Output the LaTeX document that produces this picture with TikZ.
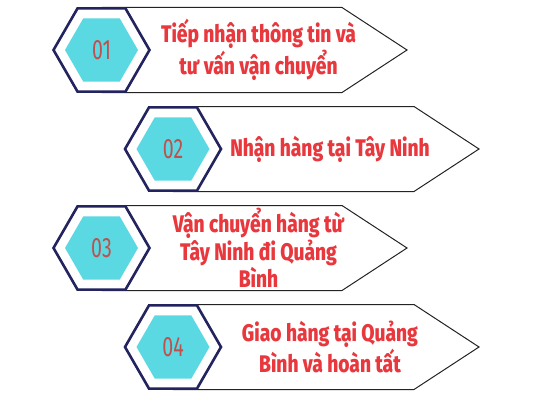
\documentclass[tikz,border=0pt]{standalone}
\usepackage{fontspec}
\setmainfont{Fira Sans}
\newfontfamily\stepfont{Fira Sans}[FakeStretch=0.8,BoldFont={Fira Sans ExtraBold}]
\newfontfamily\numfont{Fira Sans}[FakeStretch=0.7]
\usetikzlibrary{shapes.geometric}
\usetikzlibrary{positioning}
\definecolor{hexnavy}{RGB}{35,35,95}
\definecolor{hexcyan}{RGB}{90,217,226}
\definecolor{numred}{RGB}{192,80,77}
\definecolor{stepred}{RGB}{232,56,61}
\definecolor{tagline}{RGB}{35,35,35}

\begin{document}
\begin{tikzpicture}[x=1pt,y=1pt,
	hexout/.style={regular polygon,regular polygon sides=6,minimum size=96pt,inner sep=0pt,draw=hexnavy,line width=2.6pt,fill=white},
	hexin/.style={regular polygon,regular polygon sides=6,minimum size=73pt,inner sep=0pt,fill=hexcyan,text=numred,font=\numfont\fontsize{28}{28}\selectfont},
	steptext/.style={align=center,text=stepred,font=\stepfont\bfseries\fontsize{24}{27.5}\selectfont},
	tag/.style={draw=tagline,line width=1pt,fill=white}]
		\useasboundingbox (0,0) rectangle (533,400);
		
		% step 01
		\coordinate (c1) at (101.5,350);
		\draw[tag] ([yshift=42.5pt]c1) -- ++(240.5,0) -- ++(65,-42.5) -- ++(-65,-42.5) -- ++(-240.5,0) ;
		\node[hexout] (hex1) at (c1) {};
		\node[hexin] (num1) at (c1) {01};
		\node[steptext] (txt1) at ([xshift=157pt]c1) {Tiếp nhận thông tin và\\tư vấn vận chuyển};
		
		% step 02
		\coordinate (c2) at (173,251);
		\draw[tag] ([yshift=42.5pt]c2) -- ++(241,0) -- ++(65,-42.5) -- ++(-65,-42.5) -- ++(-241,0) ;
		\node[hexout] (hex2) at (c2) {};
		\node[hexin] (num2) at (c2) {02};
		\node[steptext] (txt2) at ([xshift=157pt]c2) {Nhận hàng tại Tây Ninh};
		
		% step 03
		\coordinate (c3) at (101.5,152);
		\draw[tag] ([yshift=42.5pt]c3) -- ++(240.5,0) -- ++(65,-42.5) -- ++(-65,-42.5) -- ++(-240.5,0) ;
		\node[hexout] (hex3) at (c3) {};
		\node[hexin] (num3) at (c3) {03};
		\node[steptext] (txt3) at ([xshift=157pt]c3) {Vận chuyển hàng từ\\Tây Ninh đi Quảng\\Bình};
		
		% step 04
		\coordinate (c4) at (173,53);
		\draw[tag] ([yshift=42.5pt]c4) -- ++(241,0) -- ++(65,-42.5) -- ++(-65,-42.5) -- ++(-241,0) ;
		\node[hexout] (hex4) at (c4) {};
		\node[hexin] (num4) at (c4) {04};
		\node[steptext] (txt4) at ([xshift=157pt]c4) {Giao hàng tại Quảng\\Bình và hoàn tất};
	\end{tikzpicture}
\end{document}
